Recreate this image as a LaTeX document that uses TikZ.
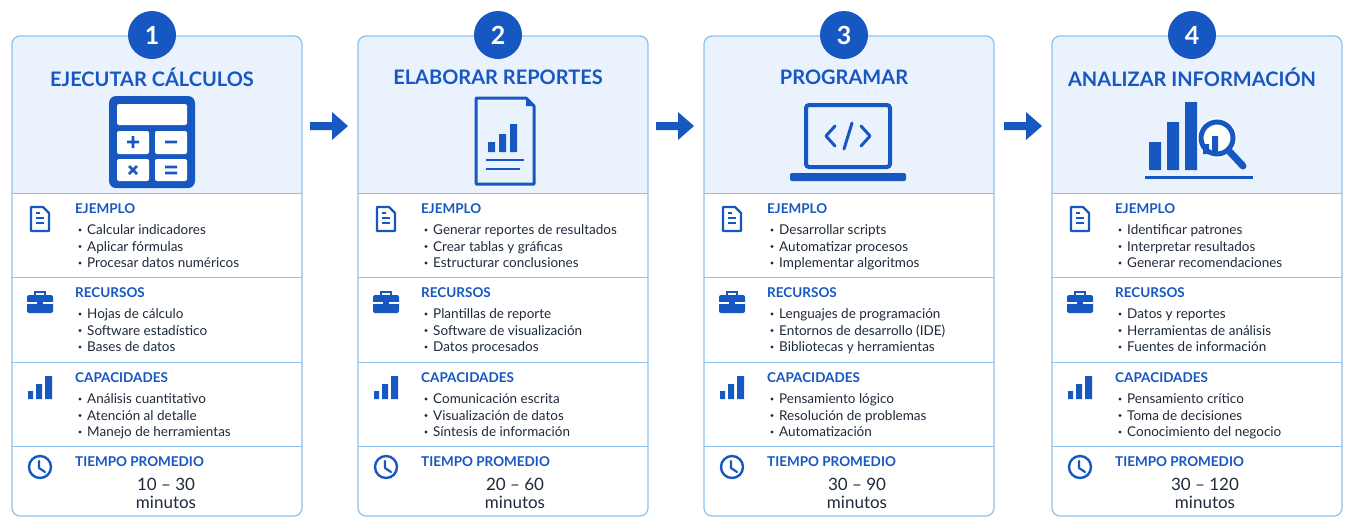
\documentclass[tikz,border=0pt]{standalone}
\usepackage{fontspec}
\setmainfont{Lato}
\begin{document}
\definecolor{dblue}{HTML}{1757C2}
\definecolor{lblue}{HTML}{8FC2EF}
\definecolor{bgblue}{HTML}{EAF3FD}
\definecolor{ink}{HTML}{1E2A3A}
\begin{tikzpicture}[x=1pt,y=-1pt,
  frame/.style={draw=lblue,line width=1.3pt,rounded corners=8pt},
  divl/.style={draw=lblue,line width=1pt},
  numc/.style={circle,fill=dblue,minimum size=48pt,text=white,font=\bfseries\fontsize{25}{25}\selectfont,inner sep=0pt},
  ttl/.style={text=dblue,font=\bfseries\fontsize{20}{22}\selectfont},
  head/.style={anchor=base west,text=dblue,font=\bfseries\fontsize{13.5}{15}\selectfont,inner sep=0pt},
  item/.style={anchor=base west,text=ink,font=\fontsize{13.5}{15}\selectfont,inner sep=0pt},
  tval/.style={text=ink,font=\fontsize{17}{18}\selectfont,align=center,inner sep=0pt},
  ic/.style={fill=dblue},
  arr/.style={fill=dblue}]
\useasboundingbox (0,0) rectangle (1348,528);
\fill[white] (0,0) rectangle (1348,528);
\newcommand\cardframe[3]{%
  \begin{scope}[shift={(#1,0)}]
  \fill[bgblue,rounded corners=8pt] (0,36) rectangle (290,193) ;
  \fill[bgblue] (0,100) rectangle (290,193);
  \draw[frame] (0,36) rectangle (290,516);
  \draw[divl] (0,193) -- (290,193) (0,277) -- (290,277) (0,362) -- (290,362) (0,446) -- (290,446);
  \node[numc] (num#2) at (140,35) {#2};
  \node[ttl] (title#2) at (140,77) {#3};
  \end{scope}}
\newcommand\sect[7]{%
  \begin{scope}[shift={(#1,#2)}]
  \node[head] (h#3) at (63,20) {#4};
  \foreach \t [count=\i] in {#5,#6,#7}{
    \fill[ink] (68,20.5+16.5*\i) circle (1.7);
    \node[item] (i#3\i) at (75,25+16.5*\i) {\t};}
  \end{scope}}
\newcommand\docicon[2]{\begin{scope}[shift={(#1,#2)}]
  \draw[dblue,line width=2.4pt,line join=round] (-9,-12) -- (3,-12) -- (9,-6) -- (9,12) -- (-9,12) -- cycle;
  \draw[dblue,line width=2pt] (-4,-1) -- (4,-1) (-4,4) -- (4,4);
  \draw[dblue,line width=2pt] (-4,-6) -- (0,-6);\end{scope}}
\newcommand\caseicon[2]{\begin{scope}[shift={(#1,#2)}]
  \draw[dblue,line width=2pt] (-5,-6) -- (-5,-10) -- (5,-10) -- (5,-6);
  \fill[dblue,rounded corners=2pt] (-13,-7) rectangle (13,11);
  \draw[white,line width=1.2pt] (-13,1) -- (13,1);
  \fill[dblue] (-3,-1) rectangle (3,3);\end{scope}}
\newcommand\baricon[2]{\begin{scope}[shift={(#1,#2)}]
  \fill[dblue] (-12,4) rectangle (-7,12) (-4,-3) rectangle (2,12) (5,-11) rectangle (12,12);\end{scope}}
\newcommand\clockicon[2]{\begin{scope}[shift={(#1,#2)}]
  \draw[dblue,line width=2.4pt] (0,0) circle (11);
  \draw[dblue,line width=2.2pt,line cap=round,line join=round] (-1,-6) -- (-1,1) -- (5,5);\end{scope}}
\newcommand\sections[1]{%
  \docicon{#1+28}{219}\caseicon{#1+28}{302}\baricon{#1+28}{387}\clockicon{#1+28}{467}}
% cards
\cardframe{12}{1}{EJECUTAR CÁLCULOS}
\cardframe{358}{2}{ELABORAR REPORTES}
\cardframe{704}{3}{PROGRAMAR}
\cardframe{1052}{4}{ANALIZAR INFORMACIÓN}
\sections{12}\sections{358}\sections{704}\sections{1052}
% card 1
\sect{12}{193}{a1}{EJEMPLO}{Calcular indicadores}{Aplicar fórmulas}{Procesar datos numéricos}
\sect{12}{277}{b1}{RECURSOS}{Hojas de cálculo}{Software estadístico}{Bases de datos}
\sect{12}{362}{c1}{CAPACIDADES}{Análisis cuantitativo}{Atención al detalle}{Manejo de herramientas}
\node[head] (d1) at (75,466) {TIEMPO PROMEDIO};
\node[tval] (t1) at (166,493) {10 – 30\\minutos};
% card 2
\sect{358}{193}{a2}{EJEMPLO}{Generar reportes de resultados}{Crear tablas y gráficas}{Estructurar conclusiones}
\sect{358}{277}{b2}{RECURSOS}{Plantillas de reporte}{Software de visualización}{Datos procesados}
\sect{358}{362}{c2}{CAPACIDADES}{Comunicación escrita}{Visualización de datos}{Síntesis de información}
\node[head] (d2) at (421,466) {TIEMPO PROMEDIO};
\node[tval] (t2) at (515,493) {20 – 60\\minutos};
% card 3
\sect{704}{193}{a3}{EJEMPLO}{Desarrollar scripts}{Automatizar procesos}{Implementar algoritmos}
\sect{704}{277}{b3}{RECURSOS}{Lenguajes de programación}{Entornos de desarrollo (IDE)}{Bibliotecas y herramientas}
\sect{704}{362}{c3}{CAPACIDADES}{Pensamiento lógico}{Resolución de problemas}{Automatización}
\node[head] (d3) at (767,466) {TIEMPO PROMEDIO};
\node[tval] (t3) at (857,493) {30 – 90\\minutos};
% card 4
\sect{1052}{193}{a4}{EJEMPLO}{Identificar patrones}{Interpretar resultados}{Generar recomendaciones}
\sect{1052}{277}{b4}{RECURSOS}{Datos y reportes}{Herramientas de análisis}{Fuentes de información}
\sect{1052}{362}{c4}{CAPACIDADES}{Pensamiento crítico}{Toma de decisiones}{Conocimiento del negocio}
\node[head] (d4) at (1115,466) {TIEMPO PROMEDIO};
\node[tval] (t4) at (1205,493) {30 – 120\\minutos};
% calculator
\begin{scope}[shift={(152,142)}]
\fill[dblue,rounded corners=7pt] (-43,-46) rectangle (43,46);
\fill[white,rounded corners=2pt] (-35,-38) rectangle (35,-17);
\fill[white,rounded corners=2pt] (-35,-11) rectangle (-3,12) (3,-11) rectangle (35,12) (-35,17) rectangle (-3,39) (3,17) rectangle (35,39);
\draw[dblue,line width=2.6pt] (-25,0) -- (-13,0) (-19,-6) -- (-19,6) (13,0) -- (25,0)
  (-23,24) -- (-15,32) (-23,32) -- (-15,24) (13,25) -- (25,25) (13,31) -- (25,31);
\end{scope}
% report
\begin{scope}[shift={(504,140)}]
\draw[dblue,line width=3pt,line join=round] (-28,-42) -- (22,-42) -- (30,-34) -- (30,44) -- (-28,44) -- cycle;
\fill[dblue] (22,-42) -- (30,-34) -- (22,-34) -- cycle;
\fill[dblue] (-16,2) rectangle (-9,12) (-5,-6) rectangle (2,12) (6,-16) rectangle (13,12);
\draw[dblue,line width=2.5pt] (-18,20) -- (20,20) (-18,29) -- (16,29);
\end{scope}
% laptop
\begin{scope}[shift={(848,140)}]
\draw[dblue,line width=4pt,rounded corners=3pt] (-42,-35) rectangle (42,27);
\fill[dblue,rounded corners=2pt] (-58,33) rectangle (58,41);
\draw[dblue,line width=3pt,line cap=round,line join=round] (-13,-14) -- (-22,-4) -- (-13,6) (13,-14) -- (22,-4) -- (13,6) (4,-17) -- (-4,9);
\end{scope}
% chart + magnifier
\begin{scope}[shift={(1197,140)}]
\fill[dblue] (-48,2) rectangle (-36,30) (-30,-18) rectangle (-18,30) (-12,-38) rectangle (0,30);
\draw[dblue,line width=3pt] (-52,37) -- (56,37);
\fill[white] (20,-2) circle (20);
\draw[dblue,line width=5pt] (20,-2) circle (16);
\draw[dblue,line width=7pt,line cap=round] (32,11) -- (46,26);
\fill[dblue] (6,4) rectangle (12,14) (15,-4) rectangle (21,14);
\end{scope}
% arrows
\foreach \ax/\n in {310/a,656/b,1004/c}{
\coordinate (ar\n) at (\ax,126);
\fill[dblue] ([shift={(0,-4)}]ar\n) -- ++(22,0) -- ++(0,-10) -- ++(16,14) -- ++(-16,14) -- ++(0,-10) -- ++(-22,0) -- cycle;}
\end{tikzpicture}
\end{document}
